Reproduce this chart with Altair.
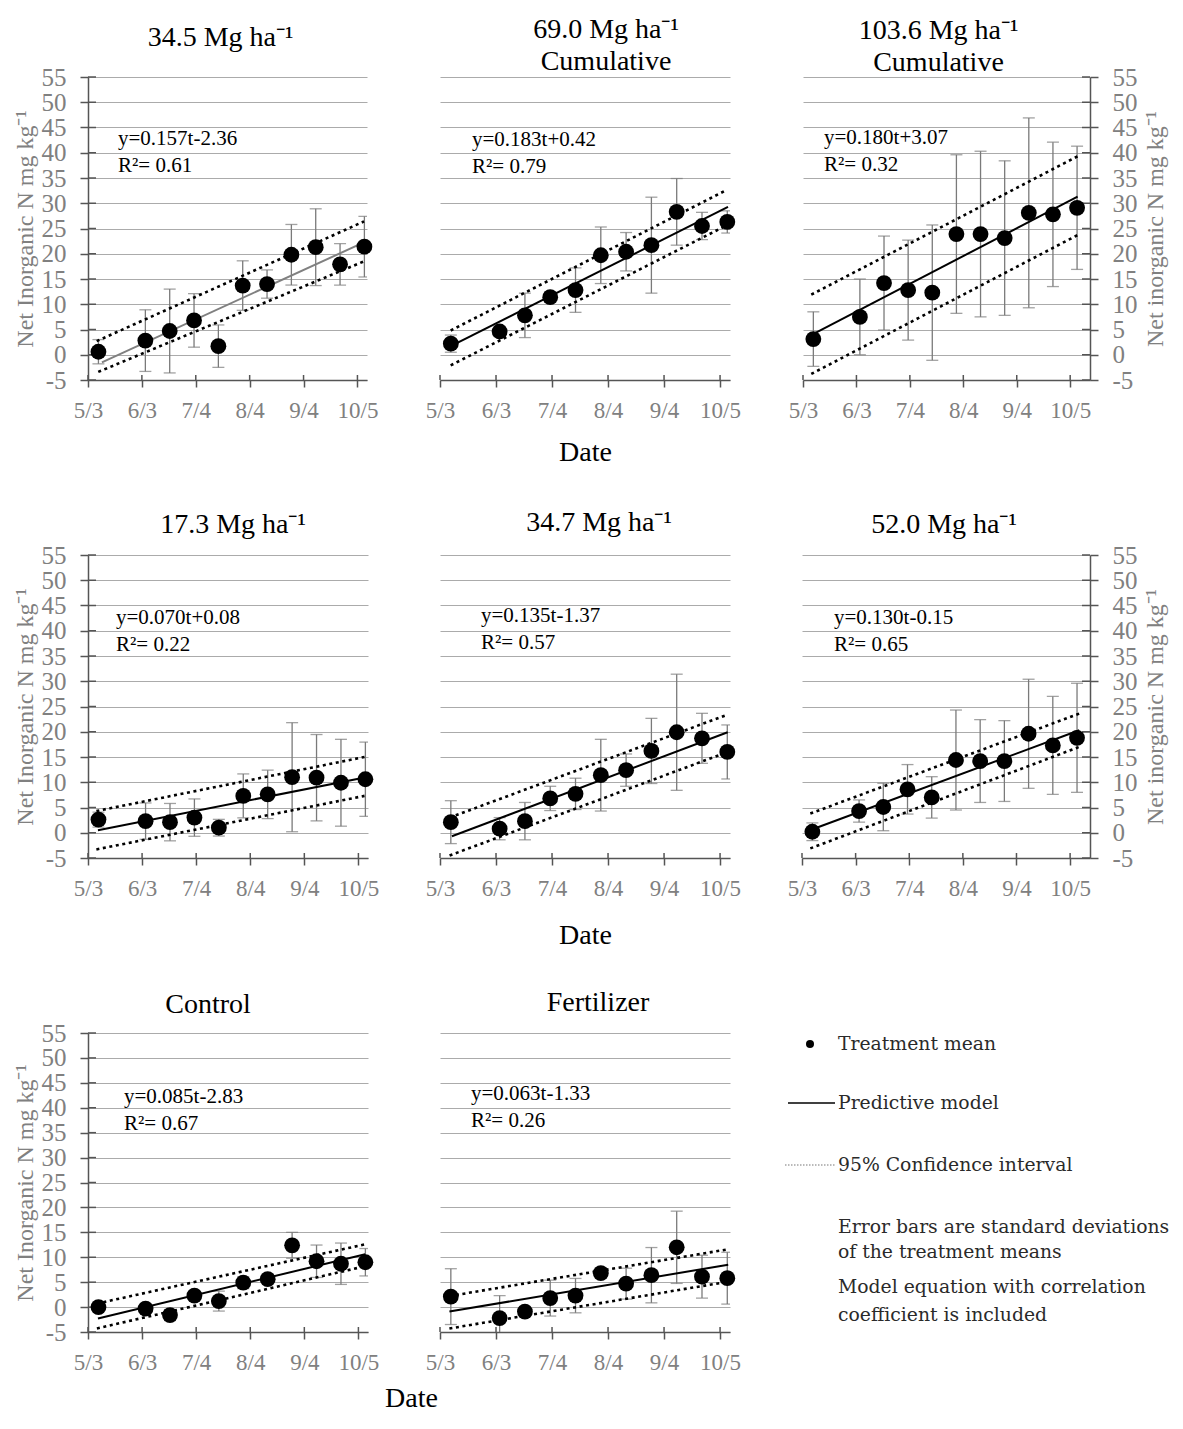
import altair as alt
import pandas as pd

# ---------------- data ----------------
DAYS = [6, 33, 47, 61, 75, 89, 103, 117, 131, 145, 159]          # days after 5/3
TICK_DAYS = [0, 31, 62, 93, 124, 155]
TICK_LABELS = ["5/3", "6/3", "7/4", "8/4", "9/4", "10/5"]
Y_TICKS = [-5, 0, 5, 10, 15, 20, 25, 30, 35, 40, 45, 50, 55]

TITLES = [["34.5 Mg ha⁻¹"], ["69.0 Mg ha⁻¹", "Cumulative"], ["103.6 Mg ha⁻¹", "Cumulative"],
          ["17.3 Mg ha⁻¹"], ["34.7 Mg ha⁻¹"], ["52.0 Mg ha⁻¹"],
          ["Control"], ["Fertilizer"]]
EQUATIONS = ["y=0.157t-2.36", "y=0.183t+0.42", "y=0.180t+3.07",
             "y=0.070t+0.08", "y=0.135t-1.37", "y=0.130t-0.15",
             "y=0.085t-2.83", "y=0.063t-1.33"]
R2 = ["R²= 0.61", "R²= 0.79", "R²= 0.32", "R²= 0.22", "R²= 0.57", "R²= 0.65",
      "R²= 0.67", "R²= 0.26"]

MEAN_345 = [0.6, 2.8, 4.7, 6.8, 1.7, 13.7, 14.0, 19.8, 21.3, 17.9, 21.4]
SD_345 = [2.4, 6.1, 8.3, 5.3, 4.2, 4.9, 2.8, 6.0, 7.6, 4.1, 6.0]
MEAN_690 = [2.2, 4.6, 7.8, 11.4, 12.8, 19.7, 20.4, 21.7, 28.3, 25.5, 26.3]
SD_690 = [1.7, 1.0, 4.4, 1.0, 4.4, 5.6, 3.8, 9.5, 6.6, 2.7, 2.2]
MEAN_1036 = [3.1, 7.5, 14.2, 12.8, 12.3, 23.9, 23.9, 23.1, 28.1, 27.8, 29.1]
SD_1036 = [5.4, 7.5, 9.3, 9.9, 13.4, 15.7, 16.4, 15.3, 18.8, 14.3, 12.2]
MEAN_173 = [2.6, 2.3, 2.1, 3.0, 1.0, 7.3, 7.6, 11.0, 10.9, 9.9, 10.6]
SD_173 = [1.5, 3.6, 3.7, 3.7, 1.65, 4.35, 4.8, 10.8, 8.55, 8.6, 7.35]
MEAN_347 = [2.1, 0.8, 2.3, 6.8, 7.7, 11.4, 12.4, 16.2, 19.9, 18.7, 16.0]
SD_347 = [4.25, 2.2, 3.7, 2.4, 3.1, 7.1, 3.2, 6.45, 11.5, 4.95, 5.35]
MEAN_520 = [0.2, 4.3, 5.1, 8.6, 7.0, 14.4, 14.2, 14.2, 19.6, 17.3, 18.8]
SD_520 = [1.75, 2.2, 4.7, 4.9, 4.1, 9.9, 8.2, 8.0, 10.8, 9.7, 10.8]
MEAN_CTRL = [0.0, -0.3, -1.6, 2.3, 1.2, 4.9, 5.6, 12.4, 9.2, 8.7, 9.0]
SD_CTRL = [0.5, 0.6, 1.1, 0.8, 2.0, 1.2, 0.7, 2.6, 3.25, 4.15, 2.75]
MEAN_FERT = [2.1, -2.2, -0.9, 1.8, 2.3, 6.8, 4.7, 6.4, 12.0, 6.1, 5.8]
SD_FERT = [5.6, 4.5, 0.8, 3.6, 3.45, 1.0, 3.1, 5.55, 7.25, 4.3, 5.2]

# model line and 95% CI end points: (day_start, value_start, day_end, value_end)
FIT = [(8, -1.5, 159, 22.3), (6.8, 1.85, 159.4, 29.3), (6.4, 4.2, 159.3, 31.3),
       (5.7, 0.5, 159.4, 11.0), (6.6, -0.7, 159.2, 19.9), (6.1, 0.7, 160.3, 20.3),
       (5.7, -2.3, 158.9, 10.6), (5.2, -0.9, 159.5, 8.5)]
UPPER = [(5, 2.7, 158.8, 26.4), (5.9, 4.8, 158.5, 32.6), (4.8, 11.9, 159.3, 39.3),
         (4.8, 4.3, 158.5, 15.0), (5.3, 3.0, 159.2, 23.4), (4.8, 3.8, 160.3, 23.6),
         (5.1, 0.7, 158.9, 12.6), (5.2, 2.2, 159.5, 11.6)]
LOWER = [(5.9, -3.4, 158.8, 18.5), (5.9, -2.1, 158.5, 25.6), (4.8, -3.8, 159.3, 23.7),
         (4.8, -3.3, 158.5, 7.3), (5.3, -4.5, 159.2, 16.0), (4.8, -3.1, 160.3, 17.0),
         (5.1, -4.3, 158.9, 8.2), (5.2, -4.3, 159.5, 5.1)]

LEGEND_TEXT = ["Treatment mean", "Predictive model", "95% Confidence interval",
               "Error bars are standard deviations", "of the treatment means",
               "Model equation with correlation", "coefficient is included"]

# ---------------- styling ----------------
SERIF = "Liberation Serif"
AX = "#555555"
GRID = "#ababab"
LAB = "#808080"
ERR = "#7a7a7a"

label_expr = " : ".join(f"datum.value == {d} ? '{l}'" for d, l in zip(TICK_DAYS, TICK_LABELS)) + " : ''"


def panel(i, mean, sd, W, H, xmax, side, date_title=False, date_x=None, date_pad=10,
          eq_xy=(30, 62), title_dx=0, title_off=0, line_color="black"):
    xs = alt.Scale(domain=[0, xmax], nice=False, zero=False)
    ys = alt.Scale(domain=[-5, 55], nice=False, zero=False)
    df = pd.DataFrame({"d": DAYS, "m": mean,
                       "lo": [m - s for m, s in zip(mean, sd)],
                       "hi": [m + s for m, s in zip(mean, sd)]})

    xkw = dict(values=TICK_DAYS, labelExpr=label_expr, grid=False, domainColor=AX,
               domainWidth=1.5, tickColor=AX, tickWidth=1.5, tickSize=7,
               labelColor=LAB, labelFontSize=23, labelFont=SERIF, labelPadding=12,
               labelFlush=False, labelOverlap=False, labelBound=False,
               title="Date" if date_title else "", titleFont=SERIF, titleFontSize=28,
               titleFontWeight="normal", titleColor="black", titlePadding=date_pad)
    if date_x is not None:
        xkw["titleX"] = date_x
    xaxis = alt.Axis(**xkw)

    ykw = dict(values=Y_TICKS, grid=True, gridColor=GRID, gridWidth=1)
    if side == "none":
        ykw.update(labels=False, ticks=False, domain=False, title="")
    else:
        ykw.update(orient=side, domainColor=AX, domainWidth=1.5, tickColor=AX,
                   tickWidth=1.5, tickSize=8, labelColor=LAB, labelFontSize=25,
                   labelFont=SERIF, titleColor=LAB, titleFontSize=24,
                   titleFont=SERIF, titleFontWeight="normal", labelFlush=False,
                   labelOverlap=False, labelBound=False, labelExpr="'' + datum.value")
        if side == "left":
            ykw.update(title="Net Inorganic N mg kg⁻¹", titlePadding=4, labelPadding=14)
        else:
            ykw.update(title="Net inorganic N mg kg⁻¹", titleAngle=270,
                       titleBaseline="top", titlePadding=6, labelPadding=14)
    yaxis = alt.Axis(**ykw)

    def X(f):
        return alt.X(f, scale=xs, axis=xaxis)

    def Y(f):
        return alt.Y(f, scale=ys, axis=yaxis)

    base = alt.Chart(df)
    err_rule = base.mark_rule(color=ERR, strokeWidth=1.3, clip=True).encode(
        x=X("d:Q"), y=Y("lo:Q"), y2="hi:Q")
    cap_hi = base.mark_tick(orient="horizontal", size=12, thickness=1.3, color=ERR, clip=True).encode(
        x=X("d:Q"), y=Y("hi:Q"))
    cap_lo = base.mark_tick(orient="horizontal", size=12, thickness=1.3, color=ERR, clip=True).encode(
        x=X("d:Q"), y=Y("lo:Q"))

    def seg(p):
        return pd.DataFrame({"d": [p[0], p[2]], "v": [p[1], p[3]]})

    fit = alt.Chart(seg(FIT[i])).mark_line(color=line_color, strokeWidth=2).encode(
        x=X("d:Q"), y=Y("v:Q"))
    up = alt.Chart(seg(UPPER[i])).mark_line(color="black", strokeWidth=2.6, strokeDash=[3, 3.6]).encode(
        x=X("d:Q"), y=Y("v:Q"))
    lo = alt.Chart(seg(LOWER[i])).mark_line(color="black", strokeWidth=2.6, strokeDash=[3, 3.6]).encode(
        x=X("d:Q"), y=Y("v:Q"))

    pts = base.mark_circle(size=250, color="black", opacity=1).encode(
        x=X("d:Q"), y=Y("m:Q"))

    xt = pd.DataFrame({"d": TICK_DAYS})
    xcross = alt.Chart(xt).mark_rule(color=AX, strokeWidth=1.5).encode(
        x=X("d:Q"), y=alt.value(H), y2=alt.value(H - 5))
    layers = [xcross, err_rule, cap_hi, cap_lo, fit, up, lo, pts]
    if side != "none":
        yt = pd.DataFrame({"v": Y_TICKS})
        x0, x1 = (0, 8) if side == "left" else (W, W - 8)
        ycross = alt.Chart(yt).mark_rule(color=AX, strokeWidth=1.5).encode(
            y=Y("v:Q"), x=alt.value(x0), x2=alt.value(x1))
        layers.insert(0, ycross)

    one = pd.DataFrame({"a": [0]})
    ex, ey = eq_xy
    t1 = alt.Chart(one).mark_text(align="left", baseline="middle", font=SERIF, fontSize=21,
                                  color="black").encode(x=alt.value(ex), y=alt.value(ey),
                                                        text=alt.value(EQUATIONS[i]))
    t2 = alt.Chart(one).mark_text(align="left", baseline="middle", font=SERIF, fontSize=21,
                                  color="black").encode(x=alt.value(ex), y=alt.value(ey + 27),
                                                        text=alt.value(R2[i]))
    layers += [t1, t2]

    return alt.layer(*layers).properties(
        width=W, height=H,
        title=alt.TitleParams(text=TITLES[i], font=SERIF, fontSize=28, fontWeight="normal",
                              color="black", anchor="middle", dx=title_dx,
                              offset=title_off, lineHeight=32))


p1 = panel(0, MEAN_345, SD_345, 279, 303, 160.5, "left", eq_xy=(30, 62), title_dx=-7,
           title_off=13, line_color="#808080")
p2 = panel(1, MEAN_690, SD_690, 290, 303, 160.5, "none", date_title=True, date_pad=16.5,
           eq_xy=(32, 63), title_dx=21, title_off=1)
p3 = panel(2, MEAN_1036, SD_1036, 287, 303, 166.5, "right", eq_xy=(21, 61), title_dx=-8,
           title_off=-12)
p4 = panel(3, MEAN_173, SD_173, 280, 303, 160.5, "left", eq_xy=(28, 63), title_dx=5,
           title_off=4)
p5 = panel(4, MEAN_347, SD_347, 290, 303, 160.5, "none", date_title=True, date_pad=21,
           eq_xy=(41, 61), title_dx=14, title_off=18)
p6 = panel(5, MEAN_520, SD_520, 288, 303, 166.5, "right", eq_xy=(32, 63), title_dx=-2,
           title_off=4)
p7 = panel(6, MEAN_CTRL, SD_CTRL, 280, 299, 160.5, "left", date_title=True, date_x=323,
           date_pad=10, eq_xy=(36, 64), title_dx=-20, title_off=2)
p8 = panel(7, MEAN_FERT, SD_FERT, 290, 299, 160.5, "none", eq_xy=(31, 61), title_dx=13,
           title_off=16)

# ---------------- legend panel ----------------
one = pd.DataFrame({"a": [0]})
LF = "DejaVu Serif"
leg_layers = [
    alt.Chart(one).mark_point(filled=True, shape="circle", size=64, color="black", opacity=1).encode(
        x=alt.value(8), y=alt.value(11)),
    alt.Chart(one).mark_rule(color="black", strokeWidth=1.6).encode(
        x=alt.value(-14), x2=alt.value(33), y=alt.value(70)),
    alt.Chart(one).mark_rule(color="#777777", strokeWidth=1.2, strokeDash=[1.5, 1.5]).encode(
        x=alt.value(-17), x2=alt.value(33), y=alt.value(132)),
]
for txt, yy in zip(LEGEND_TEXT, [11, 70, 132, 194, 219, 254, 282]):
    leg_layers.append(
        alt.Chart(one).mark_text(align="left", baseline="middle", font=LF, fontSize=18.8,
                                 color="#2a2a2a").encode(x=alt.value(36), y=alt.value(yy),
                                                         text=alt.value(txt)))
legend = alt.layer(*leg_layers).properties(width=330, height=299)

row1 = alt.hconcat(p1, p2, p3, spacing=73, bounds="flush")
row2 = alt.hconcat(p4, p5, p6, spacing=72, bounds="flush")
row3 = alt.hconcat(p7, p8, legend, spacing=72, bounds="flush")

# nested concat groups have no own height under "flush" bounds, so the spacing
# is the distance between the tops of consecutive rows
chart = alt.vconcat(row1, row2, row3, spacing=478, bounds="flush").properties(
    padding={"left": 4, "top": 7, "right": 0, "bottom": 0}
).configure_view(stroke="transparent").configure_axis(labelFont=SERIF, titleFont=SERIF)

chart.save("out.html", embed_options={"renderer": "svg", "actions": False})
